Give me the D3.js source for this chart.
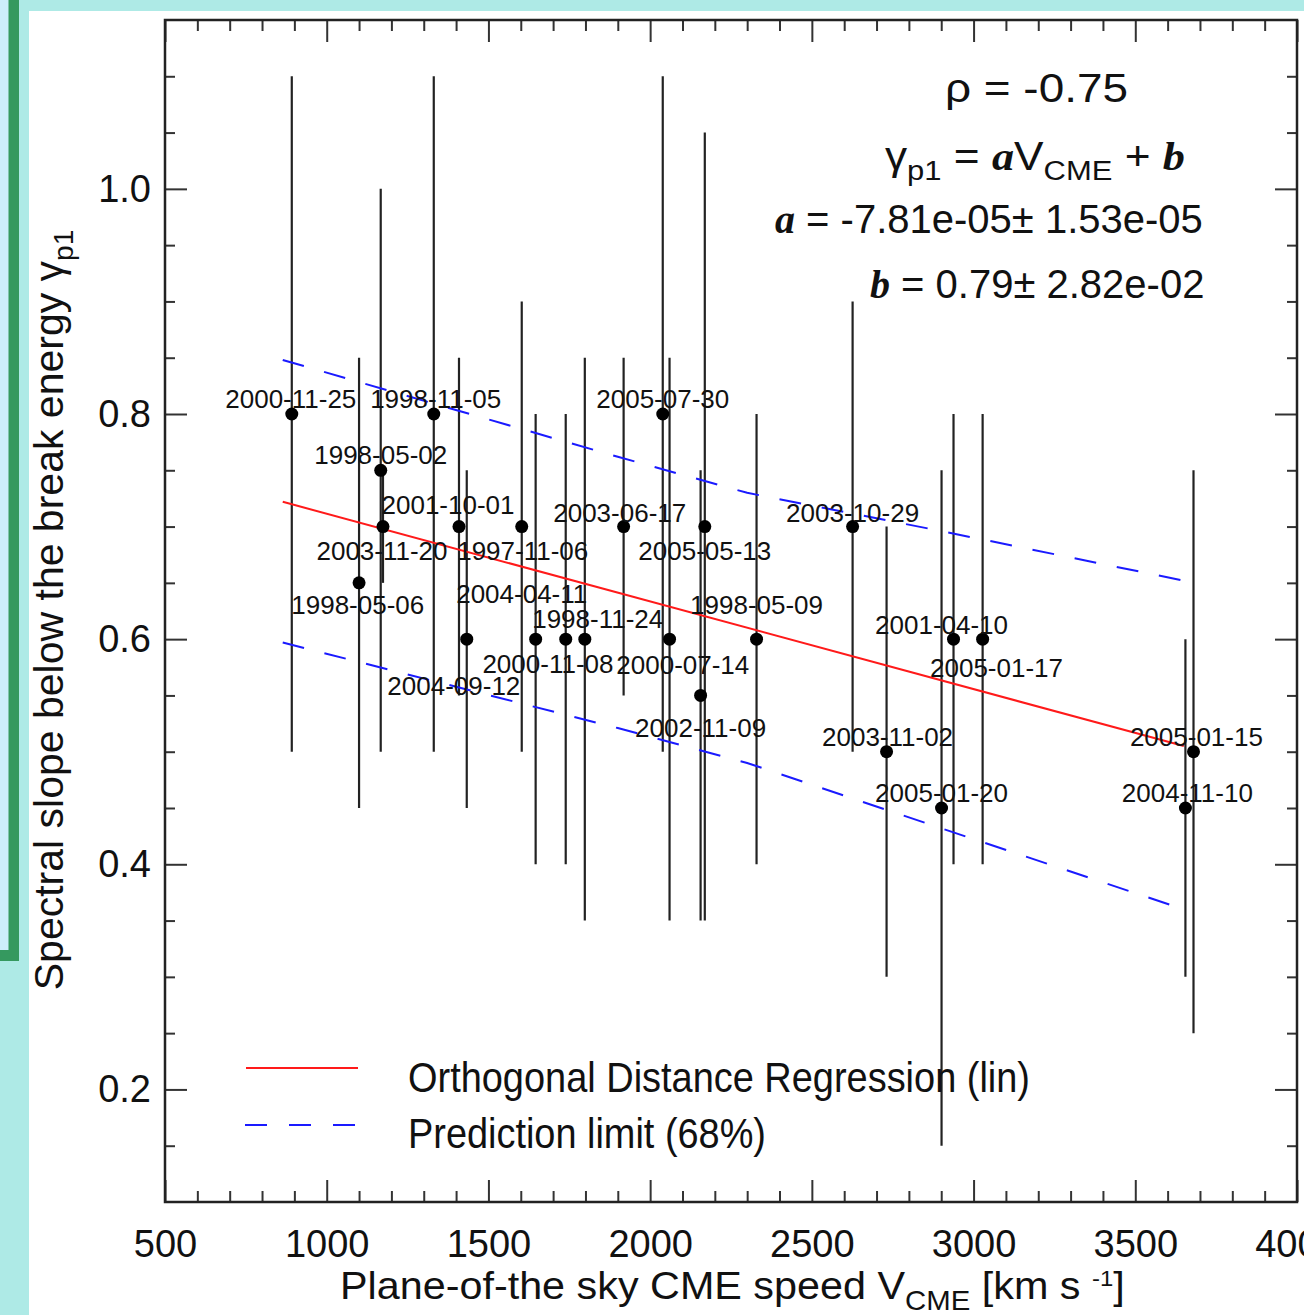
<!DOCTYPE html>
<html>
<head>
<meta charset="utf-8">
<script src="https://cdn.jsdelivr.net/npm/d3@7"></script>
<style>
  body { margin: 0; background: #fff; overflow: hidden; }
  text { font-family: "Liberation Sans", Arial, Helvetica, sans-serif; white-space: pre; }
  .serif { font-family: "Liberation Serif", "Times New Roman", serif; font-weight: bold; font-style: italic; }
</style>
</head>
<body>
<script>
// event dates, plane-of-sky CME speed (km/s), spectral slope and its error
const events = ['2000-11-25', '1998-05-06', '1998-05-02', '2003-11-20', '1998-11-05', '2001-10-01',
    '2004-09-12', '1997-11-06', '2004-04-11', '2000-11-08', '1998-11-24', '2003-06-17',
    '2005-07-30', '2000-07-14', '2002-11-09', '2005-05-13', '1998-05-09', '2003-10-29',
    '2003-11-02', '2005-01-20', '2001-04-10', '2005-01-17', '2004-11-10', '2005-01-15']
const speed = [892, 1100, 1167, 1174, 1331, 1409, 1433, 1603, 1646, 1739, 1798, 1918,
    2039, 2060, 2156, 2169, 2329, 2626, 2731, 2901, 2938, 3028, 3655, 3680]
const gamma = [0.80, 0.65, 0.75, 0.70, 0.80, 0.70, 0.60, 0.70, 0.60, 0.60, 0.60, 0.70,
    0.80, 0.60, 0.55, 0.70, 0.60, 0.70, 0.50, 0.45, 0.60, 0.60, 0.45, 0.50]
const gammaErr = [0.30, 0.20, 0.25, 0.05, 0.30, 0.15, 0.15, 0.20, 0.20, 0.20, 0.25, 0.15,
    0.30, 0.25, 0.20, 0.35, 0.20, 0.20, 0.20, 0.30, 0.20, 0.20, 0.15, 0.25]
// where each date label sits, in data units (speed, slope)
const labelV = [889, 1096, 1167, 1171, 1337, 1375, 1393, 1606, 1603, 1684, 1838, 1906,
    2039, 2101, 2156, 2169, 2329, 2626, 2734, 2901, 2901, 3071, 3661, 3689]
const labelG = [0.805, 0.622, 0.756, 0.670, 0.805, 0.711, 0.550, 0.670, 0.632, 0.570, 0.610, 0.704,
    0.805, 0.569, 0.513, 0.670, 0.622, 0.704, 0.505, 0.455, 0.605, 0.566, 0.455, 0.505]

// fit and 68% prediction limits
const fitV = [864, 3650]
const fitG = [0.722, 0.505]
const predV = [864, 1900, 2300, 2900, 3650]
const predUpper = [0.848, 0.762, 0.730, 0.696, 0.652]
const predLower = [0.597, 0.521, 0.490, 0.432, 0.360]
const rho = -0.75
const slopeA = [-7.81e-5, 1.53e-5]
const interceptB = [0.79, 2.82e-2]

// ticks
const xMajor = d3.range(500, 4001, 500)
const xMinor = d3.range(500, 4001, 100).filter(v => v % 500 !== 0)
const yMajor = [0.2, 0.4, 0.6, 0.8, 1.0]
const yMinor = d3.range(3, 23).filter(i => i % 4 !== 0).map(i => i / 20)

let width = 1304, height = 1315
let margin = { top: 20, right: 7, bottom: 113, left: 165 }

let svg = d3.select('body').append('svg')
    .attr('width', width).attr('height', height)

// slide background bits
svg.append('rect').attr('width', width).attr('height', height).attr('fill', '#fff')
svg.append('rect').attr('width', width).attr('height', 11).attr('fill', '#aeeae6')
svg.append('rect').attr('width', 29).attr('height', height).attr('fill', '#aeeae6')
svg.append('rect').attr('width', 9).attr('height', 950).attr('fill', '#cdeefb')
svg.append('rect').attr('x', 8.5).attr('width', 10.5).attr('height', 961).attr('fill', '#35995f')
svg.append('rect').attr('y', 950).attr('width', 19).attr('height', 11).attr('fill', '#35995f')

let x = d3.scaleLinear().domain([500, 4000]).range([margin.left, width - margin.right])
let y = d3.scaleLinear().domain([0.1, 1.15]).range([height - margin.bottom, margin.top])

const fmtExp = v => v.toExponential(2).replace(/e([+-])(\d)$/, 'e$10$2')

// stretch a text horizontally so it covers `w` pixels, keeping the anchor x0 fixed
const fitWidth = (t, x0, w) => {
    let len = t.node().getComputedTextLength()
    t.attr('transform', `translate(${x0},0) scale(${w / len},1) translate(${-x0},0)`)
}

let tickStyle = g => {
    g.select('.domain').remove()
    g.selectAll('.tick line').attr('stroke', '#333').attr('stroke-width', 2)
    g.selectAll('.tick text').attr('fill', '#111').attr('font-family', null)
}

// bottom
svg.append('g').attr('transform', `translate(0,${y.range()[0]})`)
    .call(d3.axisBottom(x).tickValues(xMajor).tickSizeInner(-22).tickSizeOuter(0).tickPadding(28).tickFormat(d3.format('d')))
    .attr('font-size', 38)
    .call(tickStyle)
svg.append('g').attr('transform', `translate(0,${y.range()[0]})`)
    .call(d3.axisBottom(x).tickValues(xMinor).tickSizeInner(-11).tickSizeOuter(0).tickFormat(''))
    .call(tickStyle)
// top
svg.append('g').attr('transform', `translate(0,${margin.top})`)
    .call(d3.axisBottom(x).tickValues(xMajor).tickSizeInner(22).tickSizeOuter(0).tickFormat(''))
    .call(tickStyle)
svg.append('g').attr('transform', `translate(0,${margin.top})`)
    .call(d3.axisBottom(x).tickValues(xMinor).tickSizeInner(11).tickSizeOuter(0).tickFormat(''))
    .call(tickStyle)
// left
svg.append('g').attr('transform', `translate(${margin.left},0)`)
    .call(d3.axisLeft(y).tickValues(yMajor).tickSizeInner(-22).tickSizeOuter(0).tickPadding(14).tickFormat(d3.format('.1f')))
    .attr('font-size', 38)
    .call(tickStyle)
svg.append('g').attr('transform', `translate(${margin.left},0)`)
    .call(d3.axisLeft(y).tickValues(yMinor).tickSizeInner(-10).tickSizeOuter(0).tickFormat(''))
    .call(tickStyle)
// right
svg.append('g').attr('transform', `translate(${width - margin.right},0)`)
    .call(d3.axisLeft(y).tickValues(yMajor).tickSizeInner(22).tickSizeOuter(0).tickFormat(''))
    .call(tickStyle)
svg.append('g').attr('transform', `translate(${width - margin.right},0)`)
    .call(d3.axisLeft(y).tickValues(yMinor).tickSizeInner(10).tickSizeOuter(0).tickFormat(''))
    .call(tickStyle)

svg.append('rect')
    .attr('x', x.range()[0]).attr('y', y.range()[1])
    .attr('width', x.range()[1] - x.range()[0]).attr('height', y.range()[0] - y.range()[1])
    .attr('fill', 'none').attr('stroke', '#222').attr('stroke-width', 2.5)

// error bars
svg.append('g').selectAll('line').data(speed).join('line')
    .attr('x1', d => x(d)).attr('x2', d => x(d))
    .attr('y1', (d, i) => y(gamma[i] - gammaErr[i]))
    .attr('y2', (d, i) => y(gamma[i] + gammaErr[i]))
    .attr('stroke', '#222').attr('stroke-width', 2.2)

// prediction limits
let line = d3.line().x(d => x(d[0])).y(d => y(d[1]))
;[predUpper, predLower].forEach(arr => {
    svg.append('path')
        .attr('d', line(predV.map((v, i) => [v, arr[i]])))
        .attr('fill', 'none').attr('stroke', '#1a1aff').attr('stroke-width', 2)
        .attr('stroke-dasharray', '22,21')
})
// fit
svg.append('path')
    .attr('d', line(fitV.map((v, i) => [v, fitG[i]])))
    .attr('fill', 'none').attr('stroke', '#ff1a1a').attr('stroke-width', 2)

// points
svg.append('g').selectAll('circle').data(speed).join('circle')
    .attr('cx', d => x(d)).attr('cy', (d, i) => y(gamma[i]))
    .attr('r', 6.5).attr('fill', '#000')

// date labels
svg.append('g').attr('font-size', 26).attr('fill', '#111').attr('text-anchor', 'middle')
    .selectAll('text').data(events).join('text')
    .attr('x', (d, i) => x(labelV[i])).attr('y', (d, i) => y(labelG[i]))
    .text(d => d)

// fit statistics
let ann = svg.append('g').attr('font-size', 40).attr('fill', '#111')
let tr = ann.append('text').attr('x', 945).attr('y', 102).text(`ρ = ${rho.toFixed(2)}`)
fitWidth(tr, 945, 183)
let eq = ann.append('text').attr('x', 885).attr('y', 170)
eq.append('tspan').text('γ')
eq.append('tspan').attr('font-size', 28).attr('dy', 10).text('p1')
eq.append('tspan').attr('dy', -10).text(' = ')
eq.append('tspan').attr('class', 'serif').text('a')
eq.append('tspan').text('V')
eq.append('tspan').attr('font-size', 28).attr('dy', 10).text('CME')
eq.append('tspan').attr('dy', -10).text(' + ')
eq.append('tspan').attr('class', 'serif').text('b')
fitWidth(eq, 885, 300)
let ta = ann.append('text').attr('x', 775).attr('y', 233)
ta.append('tspan').attr('class', 'serif').text('a')
ta.append('tspan').text(` = ${fmtExp(slopeA[0])}± ${fmtExp(slopeA[1])}`)
let tb = ann.append('text').attr('x', 870).attr('y', 298)
tb.append('tspan').attr('class', 'serif').text('b')
tb.append('tspan').text(` = ${interceptB[0].toFixed(2)}± ${fmtExp(interceptB[1])}`)

// legend
let leg = svg.append('g').attr('font-size', 42).attr('fill', '#111')
leg.append('line').attr('x1', 246).attr('x2', 358).attr('y1', 1068).attr('y2', 1068)
    .attr('stroke', '#ff1a1a').attr('stroke-width', 2)
leg.append('line').attr('x1', 245).attr('x2', 358).attr('y1', 1125).attr('y2', 1125)
    .attr('stroke', '#1a1aff').attr('stroke-width', 2).attr('stroke-dasharray', '22,22')
leg.append('text').attr('x', 408).attr('y', 1092)
    .attr('textLength', 622).attr('lengthAdjust', 'spacingAndGlyphs')
    .text('Orthogonal Distance Regression (lin)')
leg.append('text').attr('x', 408).attr('y', 1148)
    .attr('textLength', 358).attr('lengthAdjust', 'spacingAndGlyphs')
    .text('Prediction limit (68%)')

// axis titles
let xt = svg.append('text').attr('x', 340).attr('y', 1299)
    .attr('font-size', 38).attr('fill', '#111')
xt.append('tspan').text('Plane-of-the sky CME speed V')
xt.append('tspan').attr('font-size', 27).attr('dy', 11).text('CME')
xt.append('tspan').attr('dy', -11).text(' [km s ')
xt.append('tspan').attr('font-size', 22).attr('dy', -13).text('-1')
xt.append('tspan').attr('dy', 13).text(']')
fitWidth(xt, 340, 785)

let yt = svg.append('text').attr('transform', 'translate(63,610) rotate(-90)')
    .attr('font-size', 41).attr('fill', '#111').attr('text-anchor', 'middle')
yt.append('tspan').text('Spectral slope below the break energy γ')
yt.append('tspan').attr('font-size', 28).attr('dy', 10).text('p1')
</script>
</body>
</html>
